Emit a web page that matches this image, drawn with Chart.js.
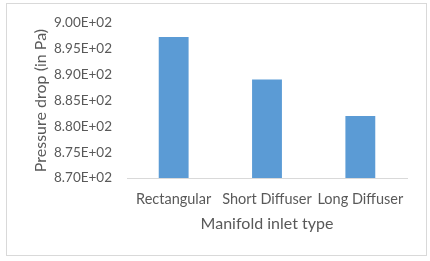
<!DOCTYPE html>
<html>
<head>
<meta charset="utf-8">
<script src="https://cdn.jsdelivr.net/npm/chart.js@4/dist/chart.umd.min.js"></script>
<style>
  html, body { margin: 0; padding: 0; background: #fff; }
  #wrap { position: relative; width: 430px; height: 261px; }
  #frame { position: absolute; left: 6px; top: 3px; width: 419px; height: 251px; border: 1px solid #d9d9d9; pointer-events: none; }
</style>
</head>
<body>
<div id="wrap">
  <canvas id="chart" width="430" height="261"></canvas>
  <div id="frame"></div>
</div>
<script>
const categories = ["Rectangular", "Short Diffuser", "Long Diffuser"];
const pressureDrop = [897.3, 889.1, 882.0];
const yMin = 870;
const yMax = 900;
const yStep = 5;

const textColor = "#595959";
const fontFamily = "Lato, 'Open Sans', sans-serif";

const ctx = document.getElementById("chart").getContext("2d");
new Chart(ctx, {
  type: "bar",
  data: {
    labels: categories,
    datasets: [{
      data: pressureDrop,
      backgroundColor: "#5b9bd5",
      barPercentage: 0.32,
      categoryPercentage: 1,
    }],
  },
  options: {
    responsive: false,
    animation: false,
    layout: { padding: { left: 31, top: 22, right: 23, bottom: 28 } },
    plugins: {
      legend: { display: false },
      tooltip: { enabled: false },
    },
    scales: {
      x: {
        grid: { display: false },
        border: { display: true, color: "#d9d9d9" },
        ticks: {
          color: textColor,
          font: { family: fontFamily, size: 14.5 },
          padding: 5,
          maxRotation: 0,
          minRotation: 0,
          autoSkip: false,
        },
        title: {
          display: true,
          text: "Manifold inlet type",
          color: textColor,
          font: { family: fontFamily, size: 16 },
          padding: 0,
        },
        afterFit: (scale) => { scale.height = 55; },
      },
      y: {
        min: yMin,
        max: yMax,
        grid: { display: false, drawTicks: false },
        border: { display: false },
        ticks: {
          stepSize: yStep,
          color: textColor,
          font: { family: fontFamily, size: 13.5 },
          padding: 15,
          callback: (v) => v.toExponential(2).toUpperCase().replace("E+", "E+0"),
        },
        title: {
          display: true,
          text: "Pressure drop (in Pa)",
          color: textColor,
          font: { family: fontFamily, size: 16 },
          padding: 0,
        },
        afterFit: (scale) => { scale.width = 96; },
      },
    },
  },
});
</script>
</body>
</html>
